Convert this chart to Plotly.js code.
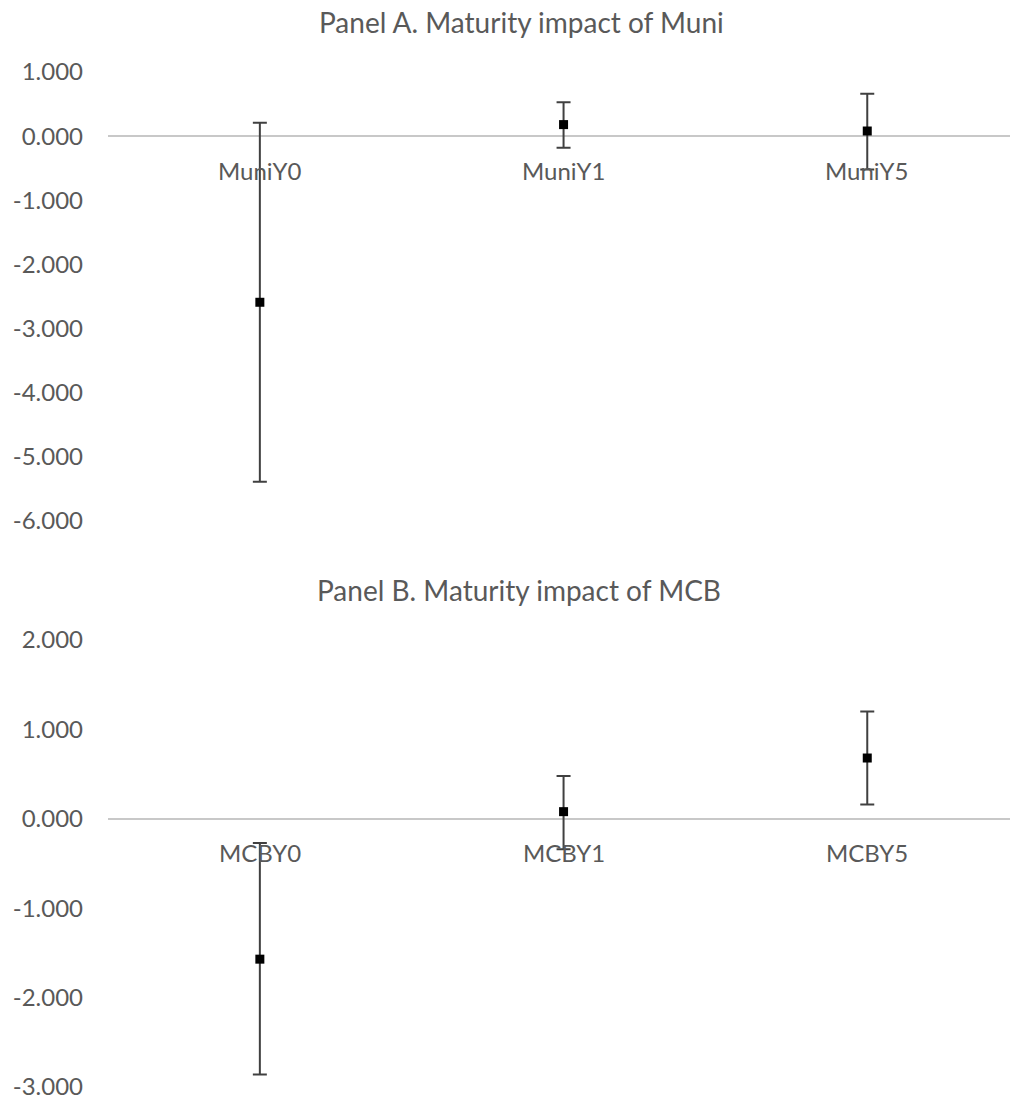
<!DOCTYPE html>
<html>
<head>
<meta charset="utf-8">
<script src="https://cdn.plot.ly/plotly-3.0.1.min.js"></script>
<style>html,body{margin:0;padding:0;background:#fff;}#chart{width:1010px;height:1104px;}</style>
</head>
<body>
<div id="chart"></div>
<script>
// Panel A
const catsA = ["MuniY0", "MuniY1", "MuniY5"];
const meanA = [-2.59, 0.18, 0.08];
const upperA = [0.21, 0.53, 0.66];
const lowerA = [-5.39, -0.18, -0.52];
const ticksA = [1, 0, -1, -2, -3, -4, -5, -6];
// Panel B
const catsB = ["MCBY0", "MCBY1", "MCBY5"];
const meanB = [-1.57, 0.08, 0.68];
const upperB = [-0.27, 0.48, 1.20];
const lowerB = [-2.86, -0.34, 0.16];
const ticksB = [2, 1, 0, -1, -2, -3];
const titleA = "Panel A. Maturity impact of Muni";
const titleB = "Panel B. Maturity impact of MCB";

const FONT = "Lato, 'Open Sans', sans-serif";
const TXT = "#595959";
const W = 1010, H = 1104;

function trace(cats, mean, upper, lower, xa, ya) {
  return {
    type: "scatter", mode: "markers",
    x: cats.map((c, i) => i), y: mean,
    xaxis: xa, yaxis: ya,
    marker: {symbol: "square", size: 9, color: "#000"},
    error_y: {
      type: "data", symmetric: false,
      array: upper.map((u, i) => u - mean[i]),
      arrayminus: lower.map((l, i) => mean[i] - l),
      color: "#404040", thickness: 2, width: 7
    },
    hoverinfo: "skip", showlegend: false
  };
}

const data = [
  trace(catsA, meanA, upperA, lowerA, "x", "y"),
  trace(catsB, meanB, upperB, lowerB, "x2", "y2")
];

function yax(ticks, domain, anchor) {
  return {
    domain: domain, anchor: anchor,
    range: [Math.min(...ticks), Math.max(...ticks)],
    tickvals: ticks, ticktext: ticks.map(v => v.toFixed(3)),
    showgrid: false, zeroline: true, zerolinecolor: "#c8c8c8", zerolinewidth: 1.5,
    showline: false, ticks: "", ticklabelstandoff: 24,
    tickfont: {family: FONT, size: 24, color: TXT}
  };
}
function xax(anchor) {
  return {
    anchor: anchor, domain: [0, 1], range: [-0.5, 2.47],
    showgrid: false, zeroline: false, showline: false, showticklabels: false, ticks: ""
  };
}

const ann = [];
function addCats(cats, xref, yref) {
  cats.forEach((c, i) => ann.push({
    x: i, y: 0, xref: xref, yref: yref, text: c, showarrow: false,
    yanchor: "middle", yshift: -34,
    font: {family: FONT, size: 24, color: TXT}
  }));
}
addCats(catsA, "x", "y");
addCats(catsB, "x2", "y2");
ann.push({x: (521 - 108) / 902, y: 1 - 22 / H, xref: "paper", yref: "paper", text: titleA,
  showarrow: false, xanchor: "center", yanchor: "middle", font: {family: FONT, size: 28, color: TXT}});
ann.push({x: (519 - 108) / 902, y: 1 - 590 / H, xref: "paper", yref: "paper", text: titleB,
  showarrow: false, xanchor: "center", yanchor: "middle", font: {family: FONT, size: 28, color: TXT}});

const layout = {
  width: W, height: H,
  margin: {l: 108, r: 0, t: 0, b: 0, pad: 0},
  paper_bgcolor: "#fff", plot_bgcolor: "#fff",
  xaxis: xax("y"),
  yaxis: yax(ticksA, [1 - 521 / H, 1 - 72 / H], "x"),
  xaxis2: xax("y2"),
  yaxis2: yax(ticksB, [1 - 1087 / H, 1 - 640 / H], "x2"),
  annotations: ann,
  showlegend: false
};

Plotly.newPlot("chart", data, layout, {displayModeBar: false, staticPlot: true});
</script>
</body>
</html>
